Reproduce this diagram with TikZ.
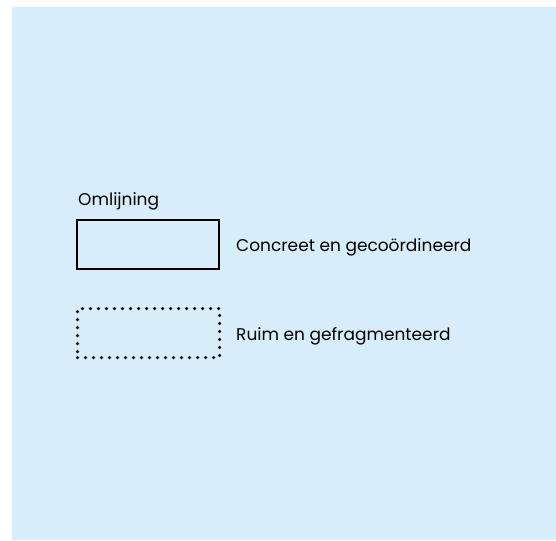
\documentclass[tikz,border=0pt]{standalone}
\usepackage{fontspec}
\setmainfont{Poppins}
\usetikzlibrary{positioning}
\definecolor{achtergrond}{HTML}{D7EEFA}

\begin{document}
\begin{tikzpicture}[x=1pt,y=-1pt,
	vak/.style={minimum width=142pt, minimum height=49pt, inner sep=0pt},
	tekst/.style={font=\fontsize{17}{20}\selectfont, inner sep=0pt, anchor=base west}]
\useasboundingbox (0,0) rectangle (556,540);
\fill[achtergrond] (12,7) rectangle (556,540);
	\node[tekst] (kop) at (78,205) {Omlijning};
	\node[vak, draw, line width=2.5pt] (concreet) at (148,244.5) {};
	\node[vak, draw, line width=3.5pt, line cap=round, dash pattern=on 0pt off 8pt] (ruim) at (148.5,333) {};
	\node[tekst] (tconcreet) at (236,251) {Concreet en gecoördineerd};
	\node[tekst] (truim) at (236,340) {Ruim en gefragmenteerd};
\end{tikzpicture}
\end{document}
